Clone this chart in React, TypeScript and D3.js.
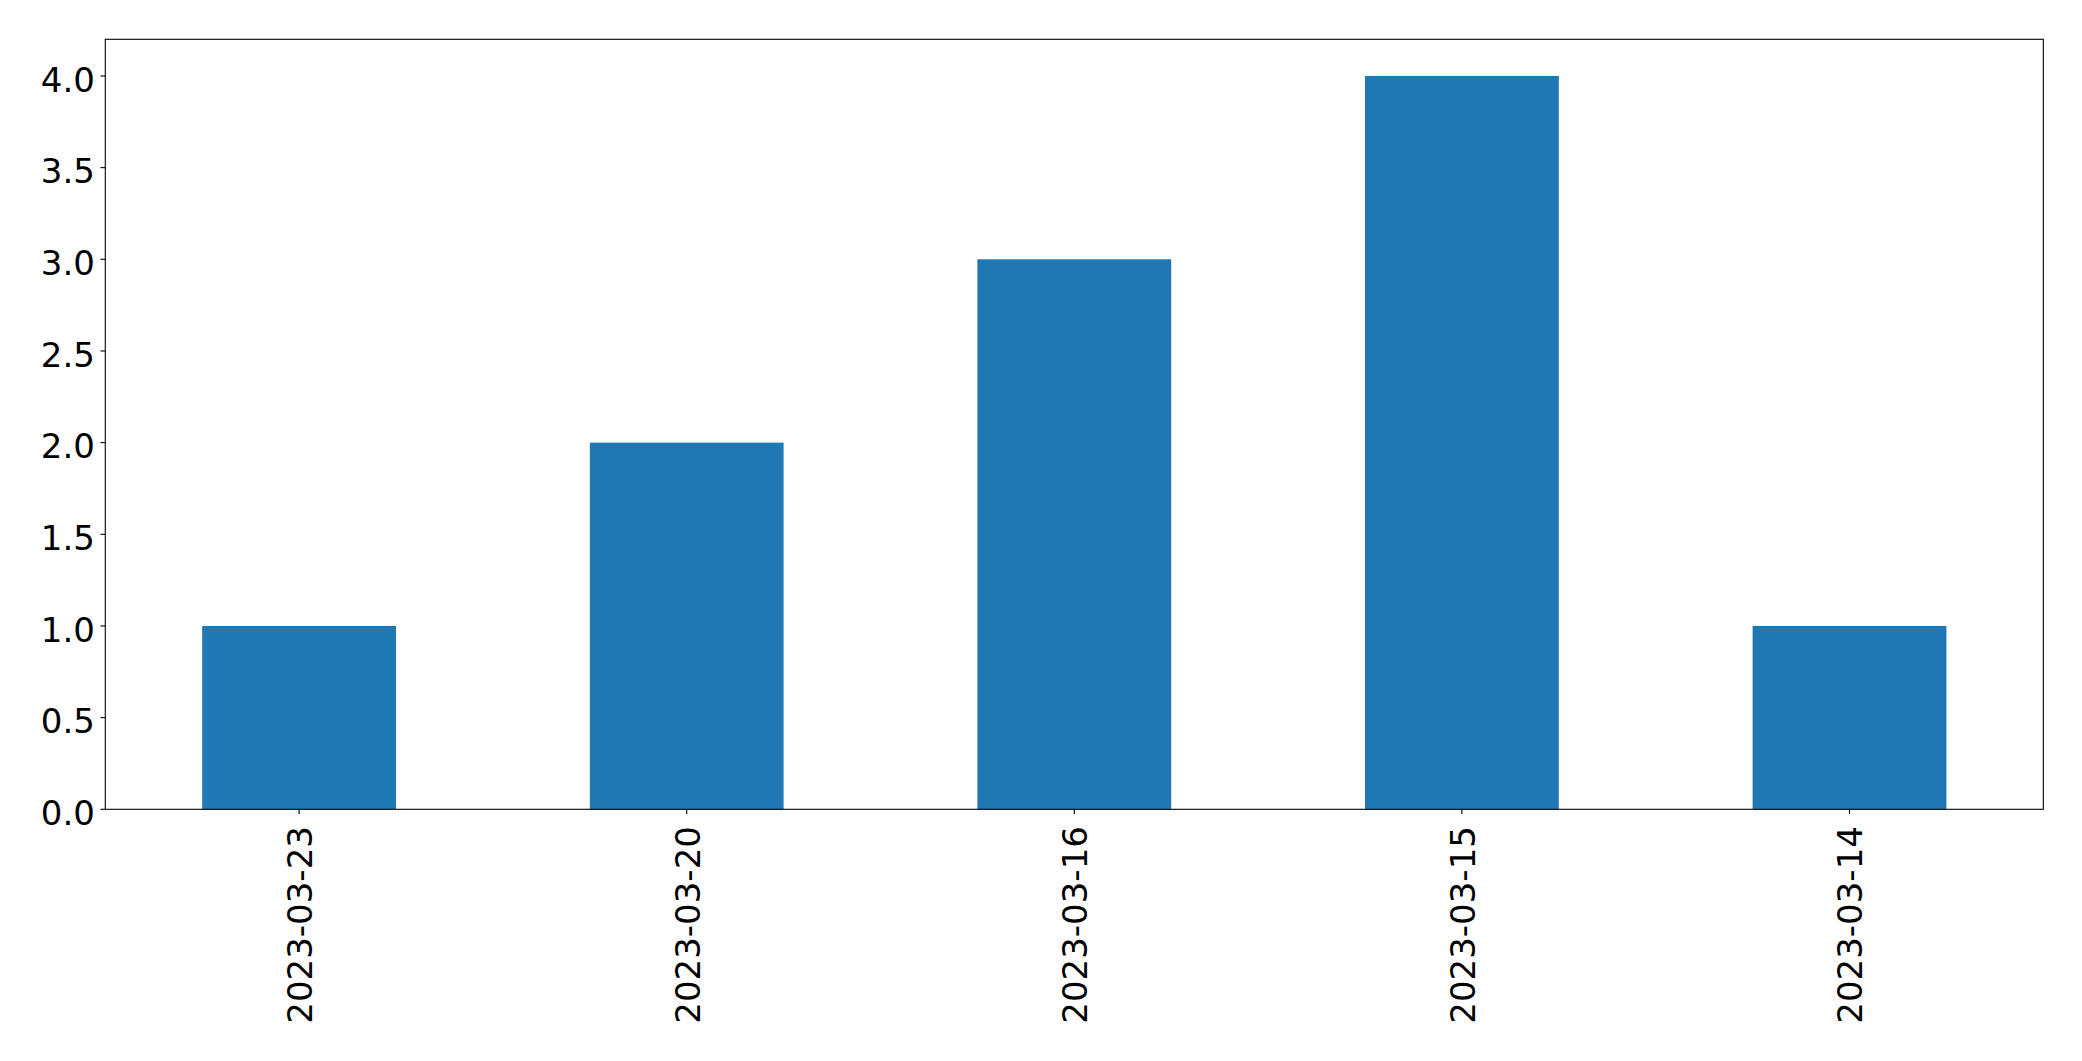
import React from "react";
import * as d3 from "d3";

const categories: string[] = ["2023-03-23", "2023-03-20", "2023-03-16", "2023-03-15", "2023-03-14"];
const values: number[] = [1, 2, 3, 4, 1];
const yTicks: number[] = [0, 0.5, 1, 1.5, 2, 2.5, 3, 3.5, 4];

const W = 2082;
const H = 1061;
const left = 105.3;
const right = 2043.3;
const top = 39.3;
const bottom = 809.3;
const fontSize = 34;
const tickLen = 4.86;

export default function App() {
  const x = d3
    .scaleLinear()
    .domain([-0.5, categories.length - 0.5])
    .range([left, right]);
  const y = d3.scaleLinear().domain([0, 4.2]).range([bottom, top]);
  const barW = x(0.25) - x(-0.25);

  return (
    <svg
      width={W}
      height={H}
      style={{ position: "absolute", left: 0, top: 0, background: "#fff" }}
      fontFamily="DejaVu Sans"
    >
      <rect x={0} y={0} width={W} height={H} fill="#fff" />
      {values.map((v, i) => (
        <rect
          key={i}
          x={x(i) - barW / 2}
          y={y(v)}
          width={barW}
          height={y(0) - y(v)}
          fill="#1f77b4"
        />
      ))}
      <rect
        x={left}
        y={top}
        width={right - left}
        height={bottom - top}
        fill="none"
        stroke="#000"
        strokeWidth={1.1}
      />
      {yTicks.map((t) => (
        <g key={t}>
          <line x1={left - tickLen} x2={left} y1={y(t)} y2={y(t)} stroke="#000" strokeWidth={1.1} />
          <text
            x={94.9}
            y={y(t)}
            dy="0.46em"
            textAnchor="end"
            fontSize={fontSize}
            fill="#000"
          >
            {t.toFixed(1)}
          </text>
        </g>
      ))}
      {categories.map((c, i) => (
        <g key={c}>
          <line x1={x(i)} x2={x(i)} y1={bottom} y2={bottom + tickLen} stroke="#000" strokeWidth={1.1} />
          <text
            transform={`translate(${x(i)},${bottom + 16.8}) rotate(-90)`}
            dy="0.38em"
            textAnchor="end"
            fontSize={fontSize}
            fill="#000"
          >
            {c}
          </text>
        </g>
      ))}
    </svg>
  );
}
